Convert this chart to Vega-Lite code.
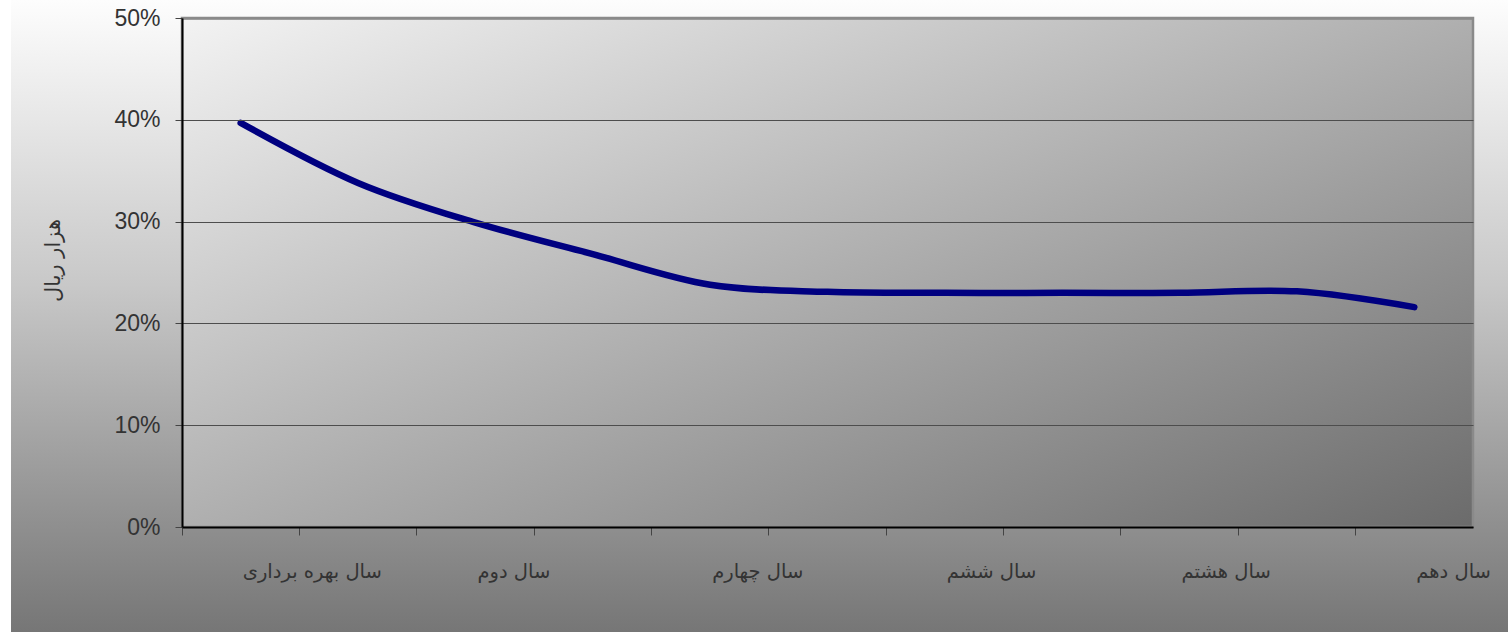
{
  "$schema": "https://vega.github.io/schema/vega-lite/v6.json",
  "width": 1497,
  "height": 632,
  "autosize": {"type": "none"},
  "padding": {"left": 11, "top": 0, "right": 0, "bottom": 0},
  "background": "#ffffff",
  "config": {
    "view": {
      "stroke": null,
      "fill": {
        "gradient": "linear", "x1": 0, "y1": 0, "x2": 0, "y2": 1,
        "stops": [
          {"offset": 0, "color": "#fdfdfd"},
          {"offset": 0.45, "color": "#c8c8c8"},
          {"offset": 1, "color": "#767676"}
        ]
      }
    }
  },
  "layer": [
    {
      "data": {"values": [{}]},
      "mark": {
        "type": "rect",
        "fill": {
          "gradient": "linear", "x1": 0, "y1": 0, "x2": 1, "y2": 1,
          "stops": [
            {"offset": 0, "color": "#f3f3f3"},
            {"offset": 1, "color": "#6b6b6b"}
          ]
        },
        "stroke": "#8a8a8a",
        "strokeWidth": 2.5
      },
      "encoding": {
        "x": {"datum": 0, "type": "quantitative", "scale": {"domain": [0, 1], "range": [171, 1462], "nice": false, "zero": false}, "axis": null},
        "x2": {"datum": 1},
        "y": {"datum": 0, "type": "quantitative"},
        "y2": {"datum": 0.5}
      }
    },
    {
      "data": {
        "values": [
          {"year": "سال بهره برداری", "value": 0.397},
          {"year": "سال اول", "value": 0.338},
          {"year": "سال دوم", "value": 0.299},
          {"year": "سال سوم", "value": 0.268},
          {"year": "سال چهارم", "value": 0.238},
          {"year": "سال پنجم", "value": 0.231},
          {"year": "سال ششم", "value": 0.230},
          {"year": "سال هفتم", "value": 0.230},
          {"year": "سال هشتم", "value": 0.230},
          {"year": "سال نهم", "value": 0.2315},
          {"year": "سال دهم", "value": 0.216}
        ]
      },
      "mark": {"type": "line", "color": "#000080", "strokeWidth": 6.5, "strokeCap": "round", "strokeJoin": "round", "interpolate": "cardinal"},
      "encoding": {
        "x": {
          "field": "year", "type": "nominal", "sort": null,
          "scale": {"type": "band", "range": [171, 1462], "paddingInner": 0, "paddingOuter": 0},
          "axis": {
            "title": null,
            "orient": "bottom",
            "offset": -105,
            "zindex": 1,
            "bandPosition": 0,
            "domainColor": "#000000",
            "domainWidth": 2,
            "tickColor": "#444444",
            "tickWidth": 1,
            "tickSize": 8,
            "labelAngle": 0,
            "labelAlign": "left",
            "labelBaseline": "middle",
            "labelOffset": 2,
            "labelPadding": 36,
            "labelFont": "DejaVu Sans",
            "labelFontSize": 19.5,
            "labelColor": "#333333",
            "labelOverlap": false,
            "labelBound": false,
            "labelExpr": "indexof(['سال بهره برداری','سال دوم','سال چهارم','سال ششم','سال هشتم','سال دهم'], datum.value) >= 0 ? datum.value : ''"
          }
        },
        "y": {
          "field": "value", "type": "quantitative",
          "scale": {"domain": [0, 0.5], "range": [527, 18], "nice": false},
          "axis": {
            "title": "هزار ریال",
            "titleFont": "DejaVu Sans",
            "titleFontSize": 21,
            "titleFontWeight": "normal",
            "titleColor": "#333333",
            "titlePadding": 50,
            "titleY": 260,
            "offset": -171,
            "zindex": 1,
            "values": [0, 0.1, 0.2, 0.3, 0.4, 0.5],
            "format": ".0%",
            "domainColor": "#000000",
            "domainWidth": 2,
            "tickColor": "#444444",
            "tickWidth": 1,
            "tickSize": 7,
            "labelPadding": 15,
            "labelFont": "Liberation Sans",
            "labelFontSize": 23,
            "labelColor": "#333333",
            "grid": true,
            "gridColor": {"condition": {"test": "datum.value === 0.5", "value": "#8a8a8a"}, "value": "#4d4d4d"},
            "gridWidth": {"condition": {"test": "datum.value === 0.5", "value": 2.5}, "value": 1.2}
          }
        }
      }
    }
  ],
  "resolve": {"scale": {"x": "independent"}}
}
